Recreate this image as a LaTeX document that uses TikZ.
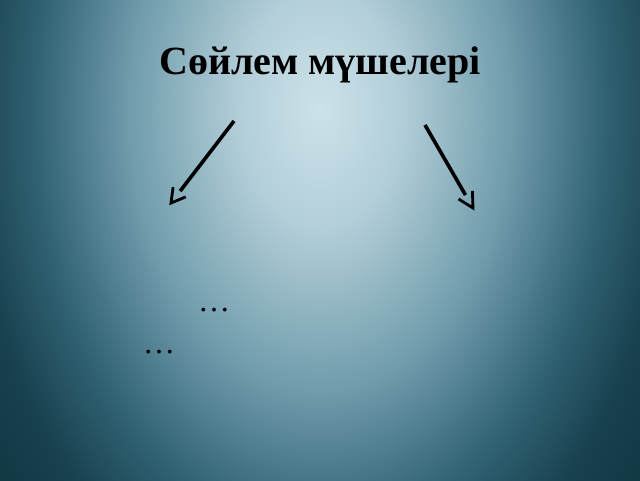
\documentclass[tikz,border=0pt]{standalone}
\usepackage{fontspec}
\setmainfont{Liberation Serif}
\usetikzlibrary{calc}
\definecolor{bgA}{RGB}{204,226,234}
\definecolor{bgB}{RGB}{178,206,216}
\definecolor{bgC}{RGB}{112,156,172}
\definecolor{bgD}{RGB}{48,98,114}
\definecolor{bgE}{RGB}{24,64,78}
\definecolor{bgF}{RGB}{10,45,58}
\pgfdeclareradialshading{bgshade}{\pgfpoint{0bp}{0bp}}{%
  color(0bp)=(bgA);
  color(6bp)=(bgB);
  color(14bp)=(bgC);
  color(21bp)=(bgD);
  color(26bp)=(bgE);
  color(35bp)=(bgF);
  color(70bp)=(bgF)}
\tikzset{
  titletext/.style={font=\fontsize{40}{48}\selectfont\bfseries, text=black, inner sep=0pt, anchor=base},
  dotstext/.style={font=\fontsize{32}{38}\selectfont, text=black, inner sep=0pt, anchor=base},
  arrowline/.style={line width=3.6pt, black},
  arrowhead/.style={line width=2.8pt, black, line join=miter}
}
\begin{document}
\begin{tikzpicture}[x=1pt,y=1pt]
  \useasboundingbox (0,0) rectangle (640,480);
  \begin{scope}
    \clip (0,0) rectangle (640,480);
    \shade[shading=bgshade] (-20,-130) rectangle (660,870);
  \end{scope}
  \node[titletext] (title) at (320,405) {Сөйлем мүшелері};
  \coordinate (a1s) at (234,359);
  \coordinate (a1e) at (171,277);
  \coordinate (a2s) at (425,355);
  \coordinate (a2e) at (473,272);
  \draw[arrowline] (a1s) -- ($(a1e)!15pt!(a1s)$);
  \draw[arrowhead] ($(a1e)!16pt!30:(a1s)$) -- (a1e) -- ($(a1e)!16pt!-30:(a1s)$);
  \draw[arrowline] (a2s) -- ($(a2e)!15pt!(a2s)$);
  \draw[arrowhead] ($(a2e)!17pt!28:(a2s)$) -- (a2e) -- ($(a2e)!17pt!-28:(a2s)$);
  \node[dotstext] (d1) at (214,169) {…};
  \node[dotstext] (d2) at (159,127) {…};
\end{tikzpicture}
\end{document}
